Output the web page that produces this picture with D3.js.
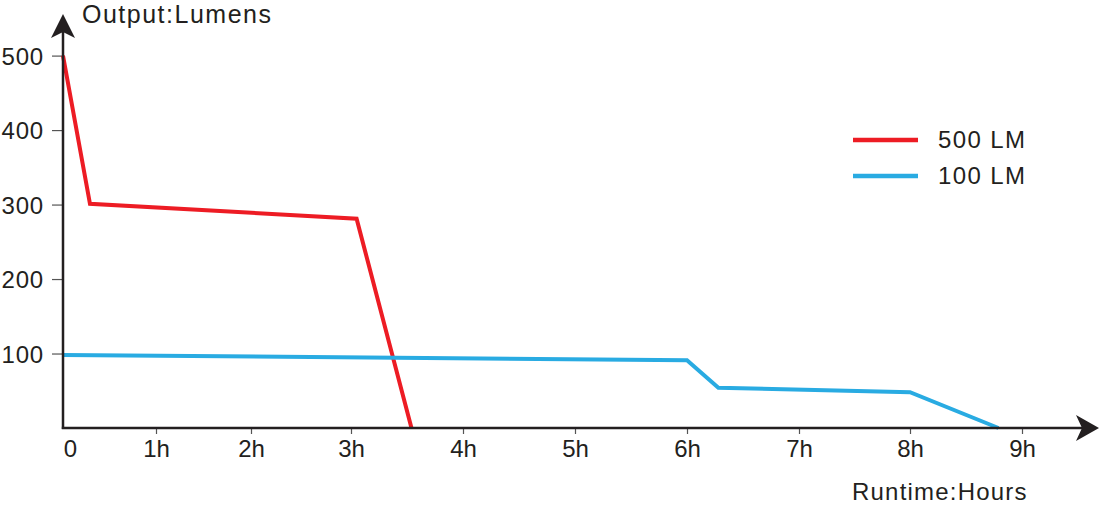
<!DOCTYPE html>
<html>
<head>
<meta charset="utf-8">
<script src="https://cdn.jsdelivr.net/npm/d3@7"></script>
<style>
  html, body { margin: 0; padding: 0; background: #fff; }
  svg { display: block; }
  text { font-family: "Liberation Sans", Arial, Helvetica, sans-serif; fill: #231f20; }
</style>
</head>
<body>
<svg id="chart" width="1100" height="505"></svg>
<script>
// ---- data ----
const xTickValues = [0, 1, 2, 3, 4, 5, 6, 7, 8, 9];
const xTickLabels = ["0", "1h", "2h", "3h", "4h", "5h", "6h", "7h", "8h", "9h"];
const yTickValues = [100, 200, 300, 400, 500];
const seriesNames = ["500 LM", "100 LM"];
const seriesColors = ["#ed1c24", "#29abe2"];
const hours500 = [0, 0.29, 3.05, 3.54];
const lumens500 = [500, 301, 281, 0];
const hours100 = [0, 6, 6.28, 8, 8.79];
const lumens100 = [98, 91, 54, 48, 0];
const yTitle = "Output:Lumens";
const xTitle = "Runtime:Hours";

// ---- layout ----
const svg = d3.select("#chart");
const axisColor = "#231f20";

// the source image spaces hour ticks unevenly; a piecewise linear scale reproduces it
const x = d3.scaleLinear()
  .domain(xTickValues)
  .range([63, 156, 251, 351, 463, 575, 687, 799, 910, 1022]);
const y = d3.scaleLinear().domain([0, 500]).range([428, 55.6]);

// y ticks (left side, thin gray)
const yAxis = d3.axisLeft(y).tickValues(yTickValues).tickSize(11).tickPadding(8).tickFormat(d3.format("d"));
const gy = svg.append("g").attr("transform", "translate(63,0)").call(yAxis);
gy.select(".domain").remove();
gy.selectAll(".tick line").attr("stroke", "#555").attr("stroke-width", 1.2);
gy.selectAll(".tick text")
  .attr("font-size", 24).attr("fill", axisColor)
  .attr("font-family", "'Liberation Sans', Arial, sans-serif")
  .attr("letter-spacing", 0.8)
  .attr("dy", "0.36em").attr("x", -19);

// x ticks (below axis)
const xAxis = d3.axisBottom(x).tickValues(xTickValues).tickSize(6).tickPadding(8)
  .tickFormat((d, i) => xTickLabels[i]);
const gx = svg.append("g").attr("transform", "translate(0,428)").call(xAxis);
gx.select(".domain").remove();
gx.selectAll(".tick line").attr("stroke", "#555").attr("stroke-width", 1.2)
  .attr("display", d => d === 0 ? "none" : null);
gx.selectAll(".tick text")
  .attr("font-size", 24).attr("fill", axisColor)
  .attr("font-family", "'Liberation Sans', Arial, sans-serif")
  .attr("y", 12).attr("dy", "0.71em")
  .attr("dx", d => d === 0 ? 7 : 0);

// series lines
const line = d3.line().x(d => x(d[0])).y(d => y(d[1]));
const series = [
  d3.zip(hours500, lumens500),
  d3.zip(hours100, lumens100)
];
svg.append("g").selectAll("path").data(series).join("path")
  .attr("d", line)
  .attr("fill", "none")
  .attr("stroke", (d, i) => seriesColors[i])
  .attr("stroke-width", 4)
  .attr("stroke-linejoin", "miter");

// axis lines with notched arrowheads
const ax = svg.append("g");
ax.append("line").attr("x1", 63).attr("y1", 429).attr("x2", 63).attr("y2", 30)
  .attr("stroke", axisColor).attr("stroke-width", 2.5);
ax.append("line").attr("x1", 61.8).attr("y1", 428).attr("x2", 1085).attr("y2", 428)
  .attr("stroke", axisColor).attr("stroke-width", 2.5);
ax.append("path")
  .attr("d", "M63,14 L75,38 L63,32 L51,38 Z")
  .attr("fill", axisColor);
ax.append("path")
  .attr("d", "M1099,428 L1076,415 L1082,428 L1076,441 Z")
  .attr("fill", axisColor);

// axis titles
svg.append("text").attr("x", 82).attr("y", 23).attr("font-size", 25)
  .attr("letter-spacing", 1.5).text(yTitle);
svg.append("text").attr("x", 852).attr("y", 500).attr("font-size", 24)
  .attr("letter-spacing", 1.2).text(xTitle);

// legend
const lg = svg.append("g");
seriesNames.forEach((name, i) => {
  const yy = 140 + i * 36;
  lg.append("line").attr("x1", 853).attr("x2", 918).attr("y1", yy).attr("y2", yy)
    .attr("stroke", seriesColors[i]).attr("stroke-width", 4.5);
  lg.append("text").attr("x", 938).attr("y", yy + 8).attr("font-size", 24)
    .attr("letter-spacing", 1.4).text(name);
});
</script>
</body>
</html>
